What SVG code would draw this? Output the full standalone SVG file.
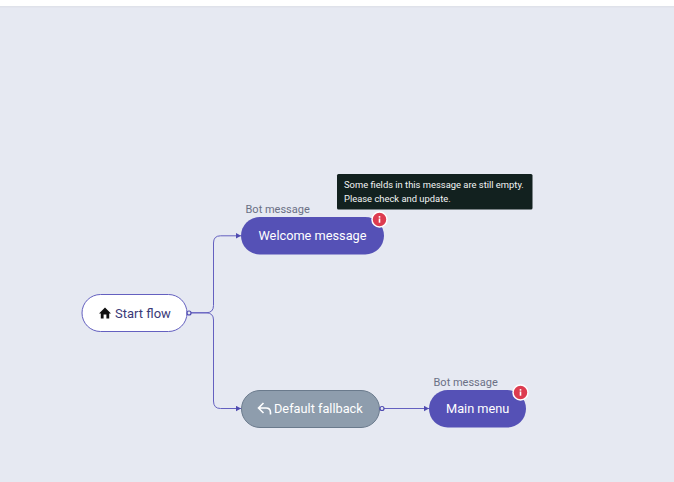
<svg xmlns="http://www.w3.org/2000/svg" width="674" height="482" viewBox="0 0 674 482">
<style>
text{font-family:Roboto,"Liberation Sans",sans-serif}
.lab{font-size:11px;fill:#6a7085}
.t{font-size:12.750px;fill:#fff}
.tip{font-size:9.400px;fill:#f2f5f5}
.c{fill:none;stroke:#6460c0;stroke-width:1}
.port{fill:#e6e9f2;stroke:#4f4bb0;stroke-width:1.200}
.b{fill:#dd3c50;stroke:#fff;stroke-width:1.500}
</style>
<defs>
<marker id="a" markerWidth="6" markerHeight="6" refX="5" refY="3" orient="auto" markerUnits="userSpaceOnUse"><path d="M0 0.300L5 3L0 5.700Z" fill="#4f4bb0"/></marker>
<g id="info"><circle r="7.500" class="b"/><rect x="-0.800" y="-1" width="1.600" height="4.200" fill="#fff"/><rect x="-0.800" y="-3.400" width="1.600" height="1.600" fill="#fff"/></g>
</defs>
<rect width="674" height="482" fill="#e6e9f2"/>
<rect width="674" height="6" fill="#fff"/>
<rect y="6" width="674" height="1.500" fill="#dfe2ea"/>
<g id="connectors">
<path class="c" d="M191 312.800H206Q213.500 312.800 213.500 305.500V243Q213.500 235.800 220.500 235.800H241" marker-end="url(#a)"/>
<path class="c" d="M191 312.800H206Q213.500 312.800 213.500 320V401Q213.500 408.500 220.500 408.500H241" marker-end="url(#a)"/>
<path class="c" d="M384 408.500H429" marker-end="url(#a)"/>
</g>
<g id="start">
<rect x="82" y="294.500" width="105" height="37" rx="18.500" fill="#fff" stroke="#6460c0"/>
<path d="M105 307.500L99 313.500H100.800V318.500H103.600V314.500H106.400V318.500H109.200V313.500H111Z" fill="#111"/>
<text x="115" y="317.500" style="font-size:13px;fill:#3b3a78">Start flow</text>
<circle class="port" cx="189" cy="313" r="2"/>
</g>
<g id="welcome">
<text class="lab" x="245.500" y="213">Bot message</text>
<rect x="241" y="217" width="143" height="37.500" rx="18.750" fill="#5551b6"/>
<text class="t" x="258.500" y="240">Welcome message</text>
<use href="#info" x="379.500" y="219.500"/>
</g>
<g id="tooltip">
<rect x="337" y="174" width="195.500" height="35.500" rx="1.500" fill="#12211f"/>
<text class="tip" x="344" y="188">Some fields in this message are still empty.</text>
<text class="tip" x="344" y="202">Please check and update.</text>
</g>
<g id="fallback">
<rect x="241.500" y="390.500" width="138" height="37" rx="18.500" fill="#8e9dad" stroke="#6a7a8c"/>
<path d="M263.500 403L258.500 408L263.500 413M258.500 408H266Q270.500 408 270.500 412.500V414.500" fill="none" stroke="#fff" stroke-width="1.600"/>
<text class="t" x="274" y="413">Default fallback</text>
<circle class="port" cx="382" cy="408.500" r="2"/>
</g>
<g id="mainmenu">
<text class="lab" x="433.500" y="386">Bot message</text>
<rect x="429" y="390" width="97" height="37.500" rx="18.750" fill="#5551b6"/>
<text class="t" x="446" y="413">Main menu</text>
<use href="#info" x="520.500" y="392.500"/>
</g>
</svg>
